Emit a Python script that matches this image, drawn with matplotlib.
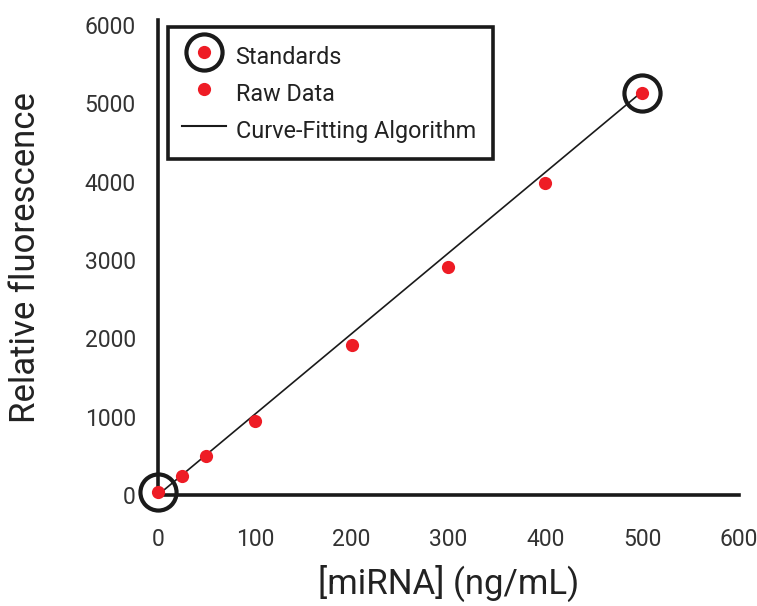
import matplotlib.pyplot as plt
from matplotlib.lines import Line2D
from matplotlib.legend_handler import HandlerTuple

plt.rcParams['font.family'] = ['Roboto', 'DejaVu Sans']

# concentration (ng/mL) and measured fluorescence
conc = [0, 25, 50, 100, 200, 300, 400, 500]
fluor = [40, 240, 500, 950, 1920, 2910, 3985, 5135]
std_conc = [0, 500]
std_fluor = [40, 5135]
fit_x = [0, 500]
fit_y = [0, 5150]

xticks = [0, 100, 200, 300, 400, 500, 600]
yticks = [0, 1000, 2000, 3000, 4000, 5000, 6000]

red = '#ee1c25'
ink = '#1a1a1a'

fig = plt.figure(figsize=(7.57, 6.06), dpi=100)
ax = fig.add_axes([0.2087, 0.1832, 0.7675, 0.7838])

ax.plot(fit_x, fit_y, color=ink, lw=1.2, zorder=2)
ax.plot(std_conc, std_fluor, 'o', ms=26, mfc='none', mec=ink, mew=3,
        clip_on=False, zorder=3)
ax.plot(conc, fluor, 'o', ms=9.5, color=red, mec='none',
        clip_on=False, zorder=4)

ax.set_xlim(0, 600)
ax.set_ylim(0, 6065)
ax.set_xticks(xticks)
ax.set_yticks(yticks)
ax.tick_params(length=0, labelsize=16.5, labelcolor='#333333')
ax.tick_params(axis='x', pad=24)
ax.tick_params(axis='y', pad=16)

for s in ['top', 'right']:
    ax.spines[s].set_visible(False)
for s in ['left', 'bottom']:
    ax.spines[s].set_linewidth(2.6)
    ax.spines[s].set_color(ink)

ax.set_xlabel('[miRNA] (ng/mL)', fontsize=25, color='#222222', labelpad=10)
ax.set_ylabel('Relative fluorescence', fontsize=25, color='#222222', labelpad=31)

h_ring = Line2D([], [], ls='none', marker='o', ms=26, mfc='none', mec=ink, mew=3)
h_dot = Line2D([], [], ls='none', marker='o', ms=9.5, color=red, mec='none')
h_line = Line2D([], [], color=ink, lw=1.5)
leg = ax.legend([(h_ring, h_dot), h_dot, h_line],
                ['Standards', 'Raw Data', 'Curve-Fitting Algorithm'],
                handler_map={tuple: HandlerTuple(ndivide=1)},
                loc='upper left', bbox_to_anchor=(0.017, 0.0, 0.559, 0.985),
                mode='expand', borderaxespad=0, fontsize=16.8, fancybox=False,
                framealpha=1, edgecolor=ink, labelspacing=0.3, handleheight=1.6,
                handlelength=1.9, handletextpad=0.4, borderpad=0.6)
leg.get_frame().set_linewidth(2.6)
for t in leg.get_texts():
    t.set_color('#222222')

fig.savefig('out.png', dpi=100)
